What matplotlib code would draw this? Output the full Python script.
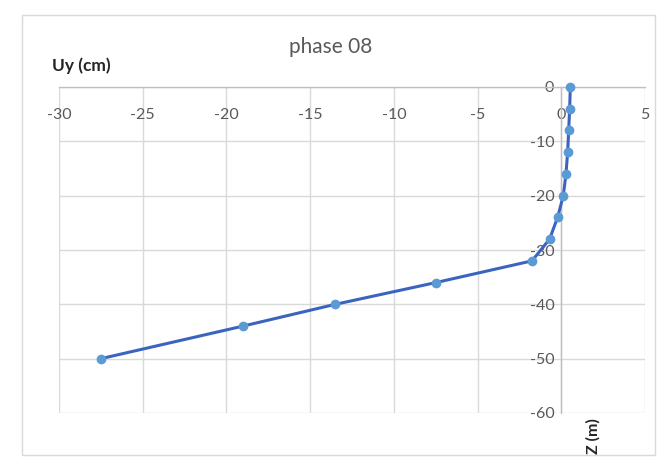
import matplotlib
matplotlib.use("Agg")
import matplotlib.pyplot as plt
from matplotlib.patches import Rectangle

# Horizontal displacement Uy (cm) versus depth Z (m)
uy_cm = [0.54, 0.50, 0.44, 0.38, 0.28, 0.12, -0.22, -0.70, -1.75, -7.5, -13.5, -19.0, -27.5]
z_m = [0, -4, -8, -12, -16, -20, -24, -28, -32, -36, -40, -44, -50]

x_ticks = [-30, -25, -20, -15, -10, -5, 0, 5]
y_ticks = [-60, -50, -40, -30, -20, -10, 0]

plt.rcParams['font.family'] = ['Lato', 'DejaVu Sans']
plt.rcParams['axes.unicode_minus'] = False

fig = plt.figure(figsize=(6.6, 4.63), dpi=100)
fig.patch.set_facecolor('white')

# chart area border
fig.patches.append(Rectangle((22 / 660, 1 - 455 / 463), (655 - 22) / 660, (455 - 15) / 463,
                             transform=fig.transFigure, fill=False,
                             edgecolor='#d9d9d9', linewidth=1.0))

ax = fig.add_axes([59 / 660, 1 - 413 / 463, (645 - 59) / 660, (413 - 87) / 463])
ax.set_xlim(-30, 5)
ax.set_ylim(-60, 0)
ax.set_xticks(x_ticks)
ax.set_yticks(y_ticks)
ax.set_xticklabels([f"{t}" for t in x_ticks])
ax.set_yticklabels([f"{t}" for t in y_ticks])
ax.grid(True, color='#d9d9d9', linewidth=1.0)
ax.set_axisbelow(True)

for s in ('top', 'right'):
    ax.spines[s].set_visible(False)
ax.spines['bottom'].set_position(('data', 0))
ax.spines['left'].set_position(('data', 0))
for s in ('bottom', 'left'):
    ax.spines[s].set_color('#bfbfbf')
    ax.spines[s].set_linewidth(1.0)
    ax.spines[s].set_zorder(1)

ax.tick_params(axis='both', length=0, labelsize=11.5, labelcolor='#595959')
ax.tick_params(axis='x', pad=15)
ax.tick_params(axis='y', pad=5)

ax.plot(uy_cm, z_m, color='#3b64c0', linewidth=2.2, zorder=3,
        marker='o', markersize=6, markerfacecolor='#5b9bd5',
        markeredgecolor='#5b9bd5', clip_on=False)

fig.text(331 / 660, 1 - 47 / 463, 'phase 08', ha='center', va='center',
         fontsize=15, color='#595959')
fig.text(52 / 660, 1 - 66 / 463, 'Uy (cm)', ha='left', va='center',
         fontsize=12.5, fontweight='bold', color='#262626')
fig.text(593 / 660, 1 - 436 / 463, 'Z (m)', ha='center', va='center',
         rotation=90, fontsize=11.5, fontweight='bold', color='#262626')

fig.savefig('out.png', dpi=100, facecolor='white')
